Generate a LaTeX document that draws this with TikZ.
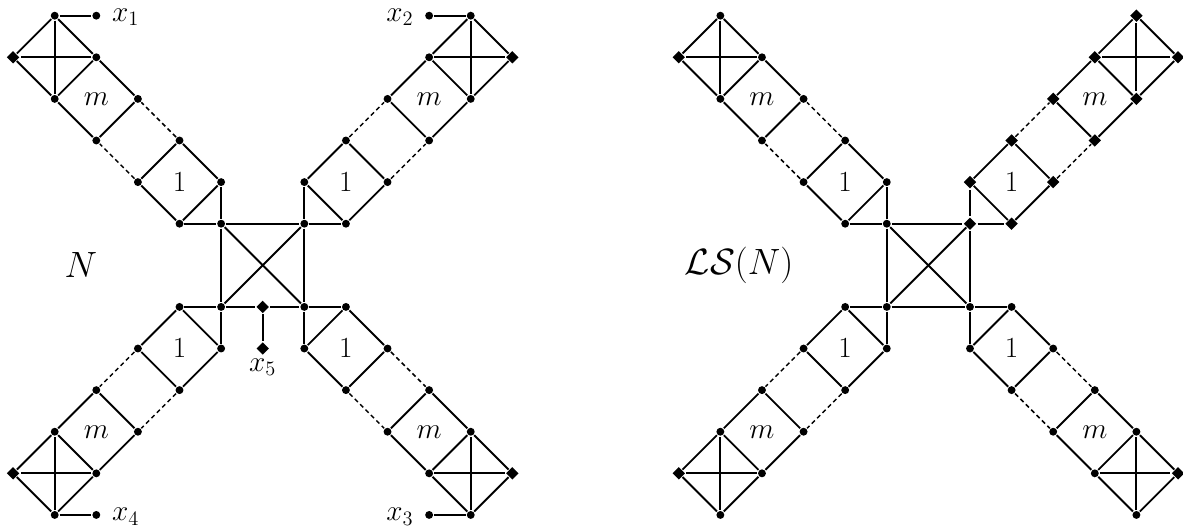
\RequirePackage{fix-cm}
\documentclass[tikz,border=0pt]{standalone}
\usetikzlibrary{shapes.geometric}
\begin{document}
\begin{tikzpicture}[line width=1.3pt,
  dot/.style={circle,fill,inner sep=0pt,minimum size=5.4pt},
  dia/.style={diamond,fill,inner sep=0pt,minimum size=9pt},
  dsh/.style={dash pattern=on 3pt off 2.2pt, line width=1pt},
  lbl/.style={font=\fontsize{20}{24}\selectfont, inner sep=0pt},
  big/.style={font=\fontsize{25}{30}\selectfont, inner sep=0pt}]
\useasboundingbox (-6.315,-6.343) rectangle (22.12,6.377);
\foreach \fig/\ox in {0/0,1/16}{
  \foreach \arm/\sx/\sy in {1/-1/1,2/1/1,3/-1/-1,4/1/-1}{
    \foreach \i/\j in {1/1,1/2,2/1,2/3,3/2,3/4,4/3,4/5,5/4,5/6,6/5}{
      \def\st{dot}
      \ifnum\i\j=65 \def\st{dia}\fi
      \ifnum\fig\arm=12 \def\st{dia}\fi
      \node[\st] (v\fig\arm\i\j) at ({\ox+(\sx)*\i},{(\sy)*\j}) {};
    }
    \foreach \a/\b in {11/12,11/21,12/23,23/32,32/21,21/12,34/45,45/54,54/43,43/34,45/56,56/65,65/54,45/65,56/54}
      \draw (v\fig\arm\a) -- (v\fig\arm\b);
    \foreach \a/\b in {23/34,32/43}
      \draw[dsh] (v\fig\arm\a) -- (v\fig\arm\b);
    \node[lbl] (one\fig\arm) at ({\ox+2*(\sx)},{2*(\sy)}) {$1$};
    \node[lbl] (em\fig\arm) at ({\ox+4*(\sx)},{4*(\sy)}) {$m$};
  }
  \draw (v\fig111) -- (v\fig211);
  \draw (v\fig111) -- (v\fig311);
  \draw (v\fig211) -- (v\fig411);
  \draw (v\fig111) -- (v\fig411);
  \draw (v\fig211) -- (v\fig311);
}
% center bottom edges
\node[dia] (x5a) at (0,-1) {};
\node[dia] (x5b) at (0,-2) {};
\draw (v0311) -- (x5a) -- (v0411);
\draw (x5a) -- (x5b);
\draw (v1311) -- (v1411);
\node[lbl,anchor=base] (lx5) at ([yshift=-0.55cm]x5b.center) {$x_5$};
% pendants
\node[dot] (p1) at (-4,6) {};
\node[dot] (p2) at (4,6) {};
\node[dot] (p4) at (-4,-6) {};
\node[dot] (p3) at (4,-6) {};
\draw (v0156) -- (p1);
\draw (v0256) -- (p2);
\draw (v0356) -- (p4);
\draw (v0456) -- (p3);
\node[lbl,anchor=base west] (lx1) at ([xshift=0.24cm,yshift=-0.14cm]p1.east) {$x_1$};
\node[lbl,anchor=base east] (lx2) at ([xshift=-0.24cm,yshift=-0.14cm]p2.west) {$x_2$};
\node[lbl,anchor=base west] (lx4) at ([xshift=0.24cm,yshift=-0.14cm]p4.east) {$x_4$};
\node[lbl,anchor=base east] (lx3) at ([xshift=-0.24cm,yshift=-0.14cm]p3.west) {$x_3$};
% names
\node[big] (nN) at (-4.37,0) {$N$};
\node[big] (nLS) at (11.45,0) {$\mathcal{LS}(N)$};
\end{tikzpicture}
\end{document}
